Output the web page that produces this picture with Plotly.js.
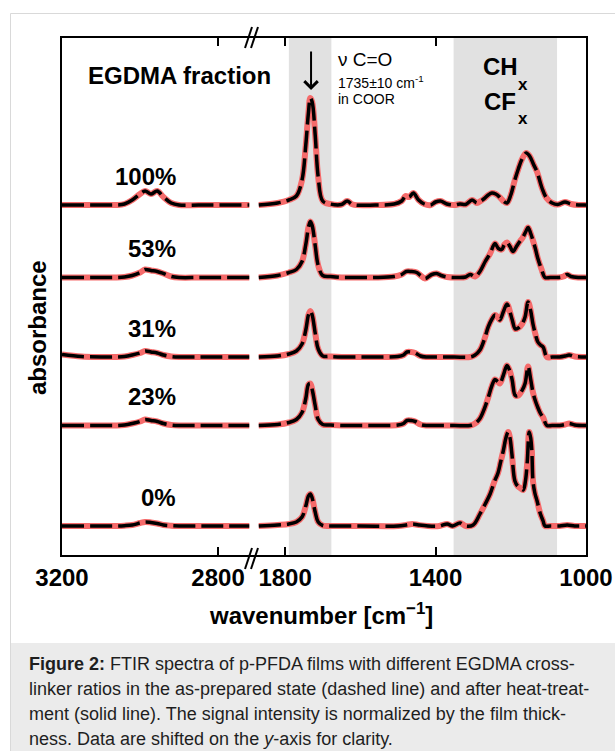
<!DOCTYPE html>
<html>
<head>
<meta charset="utf-8">
<script src="https://cdn.plot.ly/plotly-3.0.1.min.js"></script>
<style>
  html, body { margin: 0; padding: 0; background: #ffffff; }
  #chart { width: 615px; height: 751px; }
</style>
</head>
<body>
<div id="chart"></div>
<script>
// ---- Sample labels (EGDMA fraction) and vertical shifts (absorbance x 10^3, a.u.) ----
const sampleLabels = ['100%', '53%', '31%', '23%', '0%'];
const sampleShifts = [350, 277.5, 198, 129.5, 29];

// ---- C-H stretch region (left panel) ----
const wnCH = [3200, 3150, 3100, 3060, 3040, 3020, 3000, 2987, 2972, 2956, 2940, 2920, 2900, 2850, 2800, 2720];
const absCH100 = [0, 0, 0, 0, 1, 5, 11, 14, 11, 14, 8, 2, 0, 0, 0, 0];
const absCH53  = [0, 0, 0, 0, 0.5, 2, 5, 8, 7, 6, 4, 1, 0, 0, 0, 0];
const absCH31  = [2.5, 0.5, 0, 0, 0.5, 2, 4, 6, 5, 4, 2, 0.5, 0, 0, 0, 0];
const absCH23  = [0, 0, 0, 0, 0.5, 2, 4, 6, 5, 4, 2, 0.5, 0, 0, 0, 0];
const absCH0   = [0, 0, 0, 0, 0.3, 1, 3, 4, 3.5, 2.5, 1, 0.3, 0, 0, 0, 0];

// ---- Fingerprint region (right panel) ----
const wnFp100 = [1870, 1820, 1790, 1770, 1755, 1745, 1738, 1733, 1728, 1720, 1712, 1700, 1680, 1650, 1635, 1620, 1560, 1510, 1490, 1480,
                 1470, 1459, 1445, 1430, 1413, 1400, 1387, 1370, 1350, 1335, 1320, 1303, 1290, 1280, 1272, 1260, 1250, 1240, 1230, 1220,
                 1210, 1200, 1190, 1180, 1170, 1159, 1150, 1140, 1130, 1117, 1105, 1090, 1075, 1056, 1040, 1020, 1000];
const absFp100 = [0, 2, 5, 9, 25, 60, 92, 107, 103, 70, 28, 4, 1, 0.5, 4, 0.5, 0, 1, 4, 9,
                  8, 12, 5, 1, 0, 3, 4, 1, 0, 1, 0.5, 5, 2, 4, 6, 10, 12, 11, 8, 4,
                  2, 10, 24, 36, 46, 52, 49, 41, 33, 17, 7, 2, 0.5, 3, 1, 0, 0];

const wnFp53 = [1870, 1820, 1790, 1770, 1755, 1745, 1738, 1733, 1728, 1720, 1712, 1700, 1680, 1650, 1620, 1560, 1510, 1490, 1478, 1465,
                1450, 1440, 1428, 1410, 1397, 1385, 1370, 1340, 1320, 1308, 1295, 1282, 1268, 1255, 1242, 1233, 1224, 1217, 1210, 1202,
                1194, 1185, 1176, 1168, 1160, 1154, 1147, 1141, 1134, 1128, 1118, 1109, 1095, 1075, 1060, 1050, 1040, 1020, 1000];
const absFp53 = [0, 2, 5, 8, 16, 33, 50, 56, 52, 32, 12, 2, 1, 0, 0, 0, 1, 3, 6, 6,
                 5, 2, -1, 3, 4, 2, 0.5, 0, 0.5, 3, 1, 6, 16, 24, 34, 29, 28, 33, 35, 31,
                 26, 31, 36, 40, 46, 50, 44, 37, 28, 19, 8, 0, 0, 0, 1, 3, 1, 0, 0];

const wnFpMid = [1870, 1820, 1790, 1770, 1755, 1745, 1738, 1733, 1728, 1720, 1712, 1700, 1680, 1650, 1600, 1540, 1500, 1485, 1476, 1465,
                 1454, 1440, 1425, 1400, 1350, 1308, 1295, 1282, 1270, 1260, 1250, 1242, 1235, 1229, 1220, 1210, 1202, 1196, 1188, 1180,
                 1170, 1162, 1154, 1147, 1141, 1134, 1128, 1121, 1114, 1104, 1090, 1070, 1055, 1045, 1030, 1000];
const absFp31 = [0, 1, 3, 6, 13, 27, 42, 46, 42, 24, 8, 1, 0.5, 0, 0, 0, 0.5, 2, 5, 5,
                 4, 1, 0, 0, 0, 0, 2, 7, 18, 30, 38, 42, 40, 37, 45, 53, 45, 37, 28, 29,
                 33, 40, 55, 46, 33, 22, 15, 12, 10, 0, 0, 0, 1, 2, 0.5, 0];
const absFp23 = [0, 1, 3, 6, 13, 27, 41, 42, 36, 20, 6, 1, 0.5, 0, 0, 0, 0.5, 2, 5, 5,
                 4, 1, 0, 0, 0, 0, 2, 7, 17, 28, 40, 46, 44, 42, 50, 60, 54, 45, 30, 30,
                 35, 42, 59, 46, 33, 24, 18, 12, 8, 0, 0, 0, 1, 2, 0.5, 0];

const wnFp0 = [1870, 1820, 1790, 1770, 1755, 1745, 1738, 1733, 1728, 1720, 1712, 1700, 1680, 1600, 1500, 1478, 1462, 1445, 1420, 1390,
               1369, 1355, 1335, 1320, 1300, 1282, 1268, 1255, 1244, 1234, 1227, 1220, 1213, 1207, 1202, 1197, 1189, 1182, 1175, 1167,
               1161, 1156, 1151, 1147, 1144, 1141, 1136, 1130, 1122, 1114, 1109, 1095, 1070, 1050, 1030, 1000];
const absFp0 = [0, 1, 2, 4, 9, 20, 30, 32, 28, 14, 4, 0.5, 0, 0, 0, 1, 2, 1, 0, 0,
                2, 0, 3, 0, 1, 12, 22, 32, 44, 53, 64, 75, 88, 94, 88, 72, 45, 40, 38, 36,
                45, 65, 94, 88, 75, 45, 33, 25, 13, 5, 0, 0, 0, 1, 0, 0];

// ---- Highlighted bands (cm^-1) ----
const bandCO = [1790, 1677];
const bandCHCF = [1352, 1077];

// ---- Axis ticks ----
const tickValsHigh = [3200, 2800];
const tickValsLow = [1800, 1400, 1000];

// ---- Caption ----
const captionLines = [
  '<b>Figure 2:</b> FTIR spectra of p-PFDA films with different EGDMA cross-',
  'linker ratios in the as-prepared state (dashed line) and after heat-treat-',
  'ment (solid line). The signal intensity is normalized by the film thick-',
  'ness. Data are shifted on the <i>y</i>-axis for clarity.'
];

// ---------------------------------------------------------------------------
const W = 615, H = 751;
const L = 62, R = 586, T = 38, B = 555;
const px2x = px => (px - L) / (R - L);
const py2y = py => (B - py) / (B - T);
const split = 252;                       // axis break position
const FONT = 'Liberation Sans, Arial, Helvetica, sans-serif';
const RED = '#f56b6b';

const chSets = [absCH100, absCH53, absCH31, absCH23, absCH0];
const fpSets = [
  [wnFp100, absFp100], [wnFp53, absFp53], [wnFpMid, absFp31], [wnFpMid, absFp23], [wnFp0, absFp0]
];

const traces = [];
sampleLabels.forEach((lab, i) => {
  const s = sampleShifts[i];
  const panels = [
    { x: wnCH, y: chSets[i].map(v => v + s), xa: 'x', ya: 'y' },
    { x: fpSets[i][0], y: fpSets[i][1].map(v => v + s), xa: 'x2', ya: 'y2' }
  ];
  panels.forEach(p => {
    traces.push({
      x: p.x, y: p.y, xaxis: p.xa, yaxis: p.ya, type: 'scatter', mode: 'lines',
      name: lab + ' heat-treated', showlegend: false, hoverinfo: 'skip',
      line: { color: RED, width: 6, shape: 'spline', smoothing: 1 }
    });
    traces.push({
      x: p.x, y: p.y, xaxis: p.xa, yaxis: p.ya, type: 'scatter', mode: 'lines',
      name: lab + ' as-prepared', showlegend: false, hoverinfo: 'skip',
      line: { color: '#000000', width: 3.5, dash: '22px,6px', shape: 'spline', smoothing: 1 }
    });
  });
});

const axisFont = { family: FONT, size: 24, color: '#000', weight: 'bold' };
const xCommon = {
  showgrid: false, zeroline: false, showline: true, linecolor: '#000', linewidth: 2,
  mirror: 'ticks', ticks: 'inside', ticklen: 8, tickwidth: 2, tickcolor: '#000',
  tickfont: axisFont, tickmode: 'array', anchor: 'y', fixedrange: true
};

const shapes = [
  { type: 'rect', xref: 'x2', yref: 'paper', x0: bandCO[0], x1: bandCO[1], y0: 0, y1: 1,
    fillcolor: '#e1e1e1', line: { width: 0 }, layer: 'below' },
  { type: 'rect', xref: 'x2', yref: 'paper', x0: bandCHCF[0], x1: bandCHCF[1], y0: 0, y1: 1,
    fillcolor: '#e1e1e1', line: { width: 0 }, layer: 'below' },
  // caption panel and figure frame
  { type: 'rect', xref: 'paper', yref: 'paper', x0: px2x(10), x1: px2x(W + 2), y0: py2y(643), y1: py2y(H + 2),
    fillcolor: '#ebebeb', line: { width: 0 }, layer: 'below' },
  { type: 'line', xref: 'paper', yref: 'paper', x0: px2x(10.5), x1: px2x(W + 2), y0: py2y(13.5), y1: py2y(13.5),
    line: { color: '#d9d9d9', width: 1 } },
  { type: 'line', xref: 'paper', yref: 'paper', x0: px2x(10.5), x1: px2x(10.5), y0: py2y(13.5), y1: py2y(H + 2),
    line: { color: '#d9d9d9', width: 1 } }
];
// axis-break marks (top and bottom)
[[T, 0], [B, 4]].forEach(([ya, d]) => {
  [0, 6].forEach(off => {
    shapes.push({ type: 'line', xref: 'paper', yref: 'paper',
      x0: px2x(split - 7 + off), y0: py2y(ya + 10 + d),
      x1: px2x(split + off), y1: py2y(ya - 11 + d),
      line: { color: '#000', width: 2 } });
  });
});

const annotations = [];
const txt = (text, x, y, opts) => Object.assign({
  text, x, y, xref: 'paper', yref: 'paper', showarrow: false,
  xanchor: 'center', yanchor: 'middle', font: { family: FONT, size: 24, color: '#000', weight: 'bold' }
}, opts || {});

annotations.push(txt('EGDMA fraction', px2x(179), py2y(76)));
sampleLabels.forEach((lab, i) => {
  annotations.push(txt(lab, 2903, sampleShifts[i] + 29, { xref: 'x', yref: 'y', xanchor: 'right' }));
});
// carbonyl marker
annotations.push({ x: 1731, y: B - 90, xref: 'x2', yref: 'y2', text: '', showarrow: true,
  ax: 0, ay: -40, arrowhead: 4, arrowsize: 1.3, arrowwidth: 2, arrowcolor: '#000', standoff: 0 });
annotations.push(txt('ν C=O', px2x(336), py2y(60), { xanchor: 'left', font: { family: FONT, size: 19, color: '#000' } }));
annotations.push(txt('1735±10 cm<sup>-1</sup>', px2x(336), py2y(82), { xanchor: 'left', font: { family: FONT, size: 14, color: '#000' } }));
annotations.push(txt('in COOR', px2x(336), py2y(99), { xanchor: 'left', font: { family: FONT, size: 14, color: '#000' } }));
// CHx / CFx
annotations.push(txt('CH', px2x(481), py2y(66), { xanchor: 'left' }));
annotations.push(txt('x', px2x(516), py2y(84), { xanchor: 'left', font: { family: FONT, size: 17, color: '#000', weight: 'bold' } }));
annotations.push(txt('CF', px2x(482), py2y(101), { xanchor: 'left' }));
annotations.push(txt('x', px2x(516), py2y(118), { xanchor: 'left', font: { family: FONT, size: 17, color: '#000', weight: 'bold' } }));
// axis titles
annotations.push(txt('wavenumber [cm<sup>−1</sup>]', px2x(321), py2y(614)));
annotations.push(txt('absorbance', px2x(37), py2y(328), { textangle: -90 }));
// caption
const capY = [663.5, 689, 713.5, 738.5];
captionLines.forEach((line, i) => {
  annotations.push(txt(line, px2x(27), py2y(capY[i]), { xanchor: 'left', align: 'left',
    font: { family: FONT, size: 18, color: '#1e1e1e' } }));
});

const layout = {
  width: W, height: H,
  margin: { l: L, r: W - R, t: T, b: H - B, pad: 0 },
  paper_bgcolor: '#ffffff', plot_bgcolor: 'rgba(0,0,0,0)',
  showlegend: false,
  xaxis: Object.assign({}, xCommon, {
    domain: [0, px2x(split)], range: [3200, 2713],
    tickvals: tickValsHigh, ticktext: tickValsHigh.map(String)
  }),
  xaxis2: Object.assign({}, xCommon, {
    domain: [px2x(split), 1], range: [1888, 1000], anchor: 'y2',
    tickvals: tickValsLow, ticktext: tickValsLow.map(String)
  }),
  yaxis: {
    domain: [0, 1], range: [0, B - T], anchor: 'x', showgrid: false, zeroline: false,
    showline: true, linecolor: '#000', linewidth: 2, ticks: '', showticklabels: false, fixedrange: true
  },
  yaxis2: {
    domain: [0, 1], range: [0, B - T], anchor: 'x2', side: 'right', showgrid: false, zeroline: false,
    showline: true, linecolor: '#000', linewidth: 2, ticks: '', showticklabels: false, fixedrange: true
  },
  shapes, annotations
};

Plotly.newPlot('chart', traces, layout, { staticPlot: true, displayModeBar: false });
</script>
</body>
</html>
